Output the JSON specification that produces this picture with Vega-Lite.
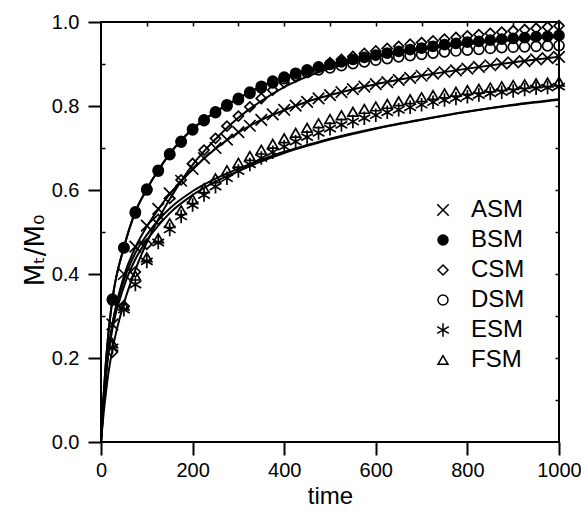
{
  "$schema": "https://vega.github.io/schema/vega-lite/v6.json",
  "width": 458,
  "height": 420,
  "autosize": {"type": "none"},
  "padding": {"left": 101, "top": 22, "right": 22, "bottom": 72},
  "background": "white",
  "config": {
    "font": "Liberation Sans",
    "view": {"stroke": "black", "strokeWidth": 2},
    "axis": {
      "domain": false,
      "grid": false,
      "tickColor": "black",
      "tickWidth": 2,
      "labelColor": "black",
      "labelFont": "Liberation Sans",
      "labelFontSize": 20,
      "titleFont": "Liberation Sans",
      "titleFontSize": 24,
      "titleFontWeight": "normal",
      "titleColor": "black"
    }
  },
  "datasets": {
    "obs": [
      {"series":"ASM","time":25,"value":0.28},{"series":"ASM","time":50,"value":0.40},{"series":"ASM","time":75,"value":0.465},{"series":"ASM","time":100,"value":0.515},{"series":"ASM","time":125,"value":0.555},{"series":"ASM","time":150,"value":0.592},{"series":"ASM","time":175,"value":0.622},{"series":"ASM","time":200,"value":0.65},{"series":"ASM","time":225,"value":0.676},{"series":"ASM","time":250,"value":0.70},{"series":"ASM","time":275,"value":0.72},{"series":"ASM","time":300,"value":0.738},{"series":"ASM","time":325,"value":0.753},{"series":"ASM","time":350,"value":0.767},{"series":"ASM","time":375,"value":0.78},{"series":"ASM","time":400,"value":0.791},{"series":"ASM","time":425,"value":0.801},{"series":"ASM","time":450,"value":0.81},{"series":"ASM","time":475,"value":0.818},{"series":"ASM","time":500,"value":0.826},{"series":"ASM","time":525,"value":0.833},{"series":"ASM","time":550,"value":0.84},{"series":"ASM","time":575,"value":0.846},{"series":"ASM","time":600,"value":0.852},{"series":"ASM","time":625,"value":0.857},{"series":"ASM","time":650,"value":0.862},{"series":"ASM","time":675,"value":0.867},{"series":"ASM","time":700,"value":0.872},{"series":"ASM","time":725,"value":0.877},{"series":"ASM","time":750,"value":0.881},{"series":"ASM","time":775,"value":0.885},{"series":"ASM","time":800,"value":0.889},{"series":"ASM","time":825,"value":0.893},{"series":"ASM","time":850,"value":0.897},{"series":"ASM","time":875,"value":0.901},{"series":"ASM","time":900,"value":0.904},{"series":"ASM","time":925,"value":0.907},{"series":"ASM","time":950,"value":0.911},{"series":"ASM","time":975,"value":0.914},{"series":"ASM","time":1000,"value":0.917},
      {"series":"BSM","time":25,"value":0.34},{"series":"BSM","time":50,"value":0.463},{"series":"BSM","time":75,"value":0.548},{"series":"BSM","time":100,"value":0.602},{"series":"BSM","time":125,"value":0.647},{"series":"BSM","time":150,"value":0.686},{"series":"BSM","time":175,"value":0.716},{"series":"BSM","time":200,"value":0.745},{"series":"BSM","time":225,"value":0.767},{"series":"BSM","time":250,"value":0.786},{"series":"BSM","time":275,"value":0.803},{"series":"BSM","time":300,"value":0.818},{"series":"BSM","time":325,"value":0.833},{"series":"BSM","time":350,"value":0.847},{"series":"BSM","time":375,"value":0.859},{"series":"BSM","time":400,"value":0.869},{"series":"BSM","time":425,"value":0.878},{"series":"BSM","time":450,"value":0.886},{"series":"BSM","time":475,"value":0.893},{"series":"BSM","time":500,"value":0.899},{"series":"BSM","time":525,"value":0.905},{"series":"BSM","time":550,"value":0.911},{"series":"BSM","time":575,"value":0.916},{"series":"BSM","time":600,"value":0.921},{"series":"BSM","time":625,"value":0.926},{"series":"BSM","time":650,"value":0.93},{"series":"BSM","time":675,"value":0.934},{"series":"BSM","time":700,"value":0.938},{"series":"BSM","time":725,"value":0.942},{"series":"BSM","time":750,"value":0.946},{"series":"BSM","time":775,"value":0.949},{"series":"BSM","time":800,"value":0.952},{"series":"BSM","time":825,"value":0.954},{"series":"BSM","time":850,"value":0.957},{"series":"BSM","time":875,"value":0.959},{"series":"BSM","time":900,"value":0.961},{"series":"BSM","time":925,"value":0.963},{"series":"BSM","time":950,"value":0.965},{"series":"BSM","time":975,"value":0.966},{"series":"BSM","time":1000,"value":0.968},
      {"series":"CSM","time":25,"value":0.214},{"series":"CSM","time":50,"value":0.324},{"series":"CSM","time":75,"value":0.405},{"series":"CSM","time":100,"value":0.471},{"series":"CSM","time":125,"value":0.53},{"series":"CSM","time":150,"value":0.58},{"series":"CSM","time":175,"value":0.624},{"series":"CSM","time":200,"value":0.663},{"series":"CSM","time":225,"value":0.695},{"series":"CSM","time":250,"value":0.723},{"series":"CSM","time":275,"value":0.752},{"series":"CSM","time":300,"value":0.776},{"series":"CSM","time":325,"value":0.798},{"series":"CSM","time":350,"value":0.818},{"series":"CSM","time":375,"value":0.838},{"series":"CSM","time":400,"value":0.856},{"series":"CSM","time":425,"value":0.869},{"series":"CSM","time":450,"value":0.881},{"series":"CSM","time":475,"value":0.893},{"series":"CSM","time":500,"value":0.903},{"series":"CSM","time":525,"value":0.911},{"series":"CSM","time":550,"value":0.918},{"series":"CSM","time":575,"value":0.925},{"series":"CSM","time":600,"value":0.931},{"series":"CSM","time":625,"value":0.937},{"series":"CSM","time":650,"value":0.942},{"series":"CSM","time":675,"value":0.947},{"series":"CSM","time":700,"value":0.951},{"series":"CSM","time":725,"value":0.955},{"series":"CSM","time":750,"value":0.959},{"series":"CSM","time":775,"value":0.963},{"series":"CSM","time":800,"value":0.967},{"series":"CSM","time":825,"value":0.97},{"series":"CSM","time":850,"value":0.973},{"series":"CSM","time":875,"value":0.976},{"series":"CSM","time":900,"value":0.979},{"series":"CSM","time":925,"value":0.982},{"series":"CSM","time":950,"value":0.985},{"series":"CSM","time":975,"value":0.988},{"series":"CSM","time":1000,"value":0.991},
      {"series":"DSM","time":25,"value":0.338},{"series":"DSM","time":50,"value":0.462},{"series":"DSM","time":75,"value":0.545},{"series":"DSM","time":100,"value":0.6},{"series":"DSM","time":125,"value":0.645},{"series":"DSM","time":150,"value":0.684},{"series":"DSM","time":175,"value":0.714},{"series":"DSM","time":200,"value":0.743},{"series":"DSM","time":225,"value":0.765},{"series":"DSM","time":250,"value":0.784},{"series":"DSM","time":275,"value":0.8},{"series":"DSM","time":300,"value":0.815},{"series":"DSM","time":325,"value":0.83},{"series":"DSM","time":350,"value":0.843},{"series":"DSM","time":375,"value":0.855},{"series":"DSM","time":400,"value":0.865},{"series":"DSM","time":425,"value":0.873},{"series":"DSM","time":450,"value":0.88},{"series":"DSM","time":475,"value":0.886},{"series":"DSM","time":500,"value":0.891},{"series":"DSM","time":525,"value":0.896},{"series":"DSM","time":550,"value":0.901},{"series":"DSM","time":575,"value":0.905},{"series":"DSM","time":600,"value":0.909},{"series":"DSM","time":625,"value":0.913},{"series":"DSM","time":650,"value":0.917},{"series":"DSM","time":675,"value":0.92},{"series":"DSM","time":700,"value":0.923},{"series":"DSM","time":725,"value":0.926},{"series":"DSM","time":750,"value":0.929},{"series":"DSM","time":775,"value":0.931},{"series":"DSM","time":800,"value":0.933},{"series":"DSM","time":825,"value":0.935},{"series":"DSM","time":850,"value":0.937},{"series":"DSM","time":875,"value":0.939},{"series":"DSM","time":900,"value":0.94},{"series":"DSM","time":925,"value":0.941},{"series":"DSM","time":950,"value":0.942},{"series":"DSM","time":975,"value":0.943},{"series":"DSM","time":1000,"value":0.944},
      {"series":"ESM","time":25,"value":0.225},{"series":"ESM","time":50,"value":0.315},{"series":"ESM","time":75,"value":0.375},{"series":"ESM","time":100,"value":0.43},{"series":"ESM","time":125,"value":0.475},{"series":"ESM","time":150,"value":0.506},{"series":"ESM","time":175,"value":0.537},{"series":"ESM","time":200,"value":0.564},{"series":"ESM","time":225,"value":0.588},{"series":"ESM","time":250,"value":0.608},{"series":"ESM","time":275,"value":0.628},{"series":"ESM","time":300,"value":0.645},{"series":"ESM","time":325,"value":0.661},{"series":"ESM","time":350,"value":0.676},{"series":"ESM","time":375,"value":0.69},{"series":"ESM","time":400,"value":0.703},{"series":"ESM","time":425,"value":0.715},{"series":"ESM","time":450,"value":0.726},{"series":"ESM","time":475,"value":0.736},{"series":"ESM","time":500,"value":0.746},{"series":"ESM","time":525,"value":0.755},{"series":"ESM","time":550,"value":0.763},{"series":"ESM","time":575,"value":0.771},{"series":"ESM","time":600,"value":0.778},{"series":"ESM","time":625,"value":0.785},{"series":"ESM","time":650,"value":0.791},{"series":"ESM","time":675,"value":0.797},{"series":"ESM","time":700,"value":0.803},{"series":"ESM","time":725,"value":0.809},{"series":"ESM","time":750,"value":0.814},{"series":"ESM","time":775,"value":0.818},{"series":"ESM","time":800,"value":0.822},{"series":"ESM","time":825,"value":0.826},{"series":"ESM","time":850,"value":0.83},{"series":"ESM","time":875,"value":0.833},{"series":"ESM","time":900,"value":0.836},{"series":"ESM","time":925,"value":0.839},{"series":"ESM","time":950,"value":0.842},{"series":"ESM","time":975,"value":0.844},{"series":"ESM","time":1000,"value":0.846},
      {"series":"FSM","time":25,"value":0.235},{"series":"FSM","time":50,"value":0.325},{"series":"FSM","time":75,"value":0.396},{"series":"FSM","time":100,"value":0.44},{"series":"FSM","time":125,"value":0.485},{"series":"FSM","time":150,"value":0.521},{"series":"FSM","time":175,"value":0.552},{"series":"FSM","time":200,"value":0.578},{"series":"FSM","time":225,"value":0.604},{"series":"FSM","time":250,"value":0.628},{"series":"FSM","time":275,"value":0.647},{"series":"FSM","time":300,"value":0.665},{"series":"FSM","time":325,"value":0.681},{"series":"FSM","time":350,"value":0.696},{"series":"FSM","time":375,"value":0.71},{"series":"FSM","time":400,"value":0.723},{"series":"FSM","time":425,"value":0.736},{"series":"FSM","time":450,"value":0.748},{"series":"FSM","time":475,"value":0.759},{"series":"FSM","time":500,"value":0.769},{"series":"FSM","time":525,"value":0.778},{"series":"FSM","time":550,"value":0.786},{"series":"FSM","time":575,"value":0.793},{"series":"FSM","time":600,"value":0.799},{"series":"FSM","time":625,"value":0.805},{"series":"FSM","time":650,"value":0.811},{"series":"FSM","time":675,"value":0.816},{"series":"FSM","time":700,"value":0.821},{"series":"FSM","time":725,"value":0.826},{"series":"FSM","time":750,"value":0.83},{"series":"FSM","time":775,"value":0.834},{"series":"FSM","time":800,"value":0.838},{"series":"FSM","time":825,"value":0.841},{"series":"FSM","time":850,"value":0.844},{"series":"FSM","time":875,"value":0.847},{"series":"FSM","time":900,"value":0.85},{"series":"FSM","time":925,"value":0.852},{"series":"FSM","time":950,"value":0.854},{"series":"FSM","time":975,"value":0.856},{"series":"FSM","time":1000,"value":0.858}
    ],
    "fit": [
      {"series":"ASM","time":0,"value":0},{"series":"ASM","time":5,"value":0.08},{"series":"ASM","time":10,"value":0.15},{"series":"ASM","time":15,"value":0.205},{"series":"ASM","time":25,"value":0.28},{"series":"ASM","time":50,"value":0.395},{"series":"ASM","time":75,"value":0.463},{"series":"ASM","time":100,"value":0.513},{"series":"ASM","time":125,"value":0.554},{"series":"ASM","time":150,"value":0.59},{"series":"ASM","time":200,"value":0.649},{"series":"ASM","time":250,"value":0.698},{"series":"ASM","time":300,"value":0.737},{"series":"ASM","time":350,"value":0.767},{"series":"ASM","time":400,"value":0.79},{"series":"ASM","time":450,"value":0.81},{"series":"ASM","time":500,"value":0.826},{"series":"ASM","time":600,"value":0.852},{"series":"ASM","time":700,"value":0.872},{"series":"ASM","time":800,"value":0.889},{"series":"ASM","time":900,"value":0.904},{"series":"ASM","time":1000,"value":0.917},
      {"series":"BSM","time":0,"value":0},{"series":"BSM","time":5,"value":0.1},{"series":"BSM","time":10,"value":0.18},{"series":"BSM","time":15,"value":0.245},{"series":"BSM","time":25,"value":0.34},{"series":"BSM","time":50,"value":0.463},{"series":"BSM","time":75,"value":0.548},{"series":"BSM","time":100,"value":0.602},{"series":"BSM","time":125,"value":0.647},{"series":"BSM","time":150,"value":0.686},{"series":"BSM","time":200,"value":0.745},{"series":"BSM","time":250,"value":0.786},{"series":"BSM","time":300,"value":0.818},{"series":"BSM","time":350,"value":0.847},{"series":"BSM","time":400,"value":0.869},{"series":"BSM","time":450,"value":0.886},{"series":"BSM","time":500,"value":0.899},{"series":"BSM","time":600,"value":0.921},{"series":"BSM","time":700,"value":0.938},{"series":"BSM","time":800,"value":0.952},{"series":"BSM","time":900,"value":0.961},{"series":"BSM","time":1000,"value":0.968},
      {"series":"CSM","time":0,"value":0},{"series":"CSM","time":5,"value":0.06},{"series":"CSM","time":10,"value":0.11},{"series":"CSM","time":15,"value":0.155},{"series":"CSM","time":25,"value":0.22},{"series":"CSM","time":50,"value":0.33},{"series":"CSM","time":75,"value":0.41},{"series":"CSM","time":100,"value":0.475},{"series":"CSM","time":125,"value":0.53},{"series":"CSM","time":150,"value":0.578},{"series":"CSM","time":200,"value":0.66},{"series":"CSM","time":250,"value":0.721},{"series":"CSM","time":300,"value":0.772},{"series":"CSM","time":350,"value":0.812},{"series":"CSM","time":400,"value":0.845},{"series":"CSM","time":450,"value":0.87},{"series":"CSM","time":500,"value":0.89},{"series":"CSM","time":600,"value":0.918},{"series":"CSM","time":700,"value":0.937},{"series":"CSM","time":800,"value":0.951},{"series":"CSM","time":900,"value":0.961},{"series":"CSM","time":1000,"value":0.968},
      {"series":"DSM","time":0,"value":0},{"series":"DSM","time":5,"value":0.1},{"series":"DSM","time":10,"value":0.18},{"series":"DSM","time":15,"value":0.245},{"series":"DSM","time":25,"value":0.34},{"series":"DSM","time":50,"value":0.463},{"series":"DSM","time":75,"value":0.548},{"series":"DSM","time":100,"value":0.602},{"series":"DSM","time":125,"value":0.647},{"series":"DSM","time":150,"value":0.686},{"series":"DSM","time":200,"value":0.745},{"series":"DSM","time":250,"value":0.786},{"series":"DSM","time":300,"value":0.818},{"series":"DSM","time":350,"value":0.847},{"series":"DSM","time":400,"value":0.868},{"series":"DSM","time":450,"value":0.884},{"series":"DSM","time":500,"value":0.896},{"series":"DSM","time":600,"value":0.918},{"series":"DSM","time":700,"value":0.934},{"series":"DSM","time":800,"value":0.947},{"series":"DSM","time":900,"value":0.957},{"series":"DSM","time":1000,"value":0.964},
      {"series":"ESM","time":0,"value":0},{"series":"ESM","time":5,"value":0.08},{"series":"ESM","time":10,"value":0.15},{"series":"ESM","time":15,"value":0.2},{"series":"ESM","time":25,"value":0.27},{"series":"ESM","time":50,"value":0.37},{"series":"ESM","time":75,"value":0.435},{"series":"ESM","time":100,"value":0.48},{"series":"ESM","time":125,"value":0.515},{"series":"ESM","time":150,"value":0.545},{"series":"ESM","time":200,"value":0.588},{"series":"ESM","time":250,"value":0.62},{"series":"ESM","time":300,"value":0.645},{"series":"ESM","time":350,"value":0.668},{"series":"ESM","time":400,"value":0.688},{"series":"ESM","time":450,"value":0.705},{"series":"ESM","time":500,"value":0.72},{"series":"ESM","time":600,"value":0.746},{"series":"ESM","time":700,"value":0.767},{"series":"ESM","time":800,"value":0.786},{"series":"ESM","time":900,"value":0.802},{"series":"ESM","time":1000,"value":0.815},
      {"series":"FSM","time":0,"value":0},{"series":"FSM","time":5,"value":0.085},{"series":"FSM","time":10,"value":0.155},{"series":"FSM","time":15,"value":0.21},{"series":"FSM","time":25,"value":0.28},{"series":"FSM","time":50,"value":0.385},{"series":"FSM","time":75,"value":0.45},{"series":"FSM","time":100,"value":0.493},{"series":"FSM","time":125,"value":0.528},{"series":"FSM","time":150,"value":0.556},{"series":"FSM","time":200,"value":0.597},{"series":"FSM","time":250,"value":0.627},{"series":"FSM","time":300,"value":0.651},{"series":"FSM","time":350,"value":0.672},{"series":"FSM","time":400,"value":0.691},{"series":"FSM","time":450,"value":0.707},{"series":"FSM","time":500,"value":0.722},{"series":"FSM","time":600,"value":0.747},{"series":"FSM","time":700,"value":0.768},{"series":"FSM","time":800,"value":0.787},{"series":"FSM","time":900,"value":0.803},{"series":"FSM","time":1000,"value":0.816}
    ]
  },
  "layer": [
    {
      "data": {"name": "fit"},
      "transform": [{"filter": {"field": "series", "oneOf": ["ASM", "BSM", "CSM"]}}],
      "mark": {"type": "line", "interpolate": "monotone", "strokeWidth": 2, "color": "black"},
      "encoding": {
        "x": {"field": "time", "type": "quantitative", "scale": {"domain": [0, 1000], "nice": false},
          "axis": {"orient": "bottom", "values": [0, 200, 400, 600, 800, 1000], "format": "d", "tickSize": 13, "labelPadding": 5, "labelFlush": false, "title": "time", "titlePadding": 4}},
        "y": {"field": "value", "type": "quantitative", "scale": {"domain": [0, 1], "nice": false},
          "axis": {"orient": "left", "values": [0, 0.2, 0.4, 0.6, 0.8, 1.0], "format": ".1f", "tickSize": 13, "labelPadding": 9, "labelFlush": false, "title": "Mₜ/M₀", "titleFont": "DejaVu Sans", "titleFontSize": 26, "titlePadding": 3, "titleY": 228}},
        "detail": {"field": "series", "type": "nominal"}
      }
    },
    {
      "data": {"name": "fit"},
      "transform": [{"filter": {"field": "series", "oneOf": ["DSM", "ESM", "FSM"]}}],
      "mark": {"type": "line", "interpolate": "monotone", "strokeWidth": 2, "color": "black"},
      "encoding": {
        "x": {"field": "time", "type": "quantitative", "axis": null},
        "y": {"field": "value", "type": "quantitative",
          "axis": {"orient": "left", "values": [0.1, 0.3, 0.5, 0.7, 0.9], "tickSize": -4, "tickWidth": 1.5, "labels": false, "title": null}},
        "detail": {"field": "series", "type": "nominal"}
      }
    },
    {
      "data": {"name": "obs"},
      "mark": {"type": "point", "filled": true, "strokeWidth": 1.7, "opacity": 1, "size": 100},
      "encoding": {
        "x": {"field": "time", "type": "quantitative",
          "axis": {"orient": "top", "values": [100, 200, 300, 400, 500, 600, 700, 800, 900], "tickSize": -4, "tickWidth": 1.5, "labels": false, "title": null}},
        "y": {"field": "value", "type": "quantitative",
          "axis": {"orient": "right", "values": [0.1, 0.2, 0.3, 0.4, 0.5, 0.6, 0.7, 0.8, 0.9], "tickSize": -4, "tickWidth": 1.5, "labels": false, "title": null}},
        "shape": {"field": "series", "type": "nominal",
          "scale": {"domain": ["ASM", "BSM", "CSM", "DSM", "ESM", "FSM"],
            "range": ["M-1.15,-1.15L1.15,1.15M-1.15,1.15L1.15,-1.15", "circle", "diamond", "circle", "M0,-1.35L0,1.35M-1.17,-0.68L1.17,0.68M-1.17,0.68L1.17,-0.68", "triangle-up"]},
          "legend": {"orient": "none", "legendX": 330, "legendY": 176, "title": null, "labelFontSize": 24, "labelFont": "Liberation Sans", "labelColor": "black", "symbolSize": 100, "rowPadding": 6, "labelOffset": 16, "padding": 0,
            "encode": {"symbols": {"update": {"stroke": {"value": "black"}, "strokeWidth": {"value": 2.4}}}}}},
        "fill": {"field": "series", "type": "nominal",
          "scale": {"domain": ["ASM", "BSM", "CSM", "DSM", "ESM", "FSM"],
            "range": ["transparent", "black", "transparent", "transparent", "transparent", "transparent"]},
          "legend": {"orient": "none", "legendX": 330, "legendY": 176, "title": null, "labelFontSize": 24, "labelFont": "Liberation Sans", "labelColor": "black", "symbolSize": 100, "rowPadding": 6, "labelOffset": 16, "padding": 0,
            "encode": {"symbols": {"update": {"stroke": {"value": "black"}, "strokeWidth": {"value": 2.4}}}}}},
        "stroke": {"value": "black"}
      }
    }
  ],
  "resolve": {"axis": {"x": "independent", "y": "independent"}}
}
